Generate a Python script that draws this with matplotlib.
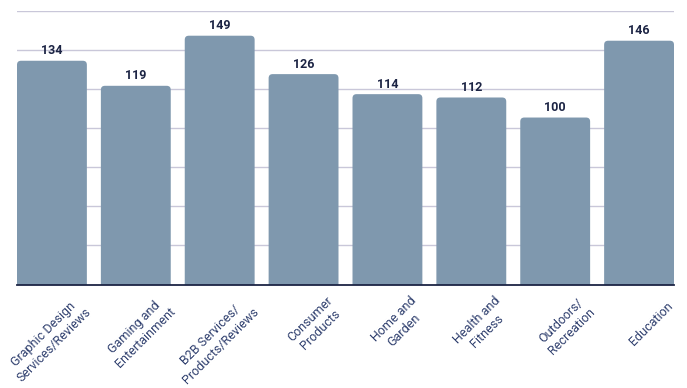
import numpy as np
import matplotlib.pyplot as plt
import matplotlib.transforms as mtransforms
from matplotlib.patches import FancyBboxPatch

categories = [
    "Graphic Design\nServices/Reviews",
    "Gaming and\nEntertainment",
    "B2B Services/\nProducts/Reviews",
    "Consumer\nProducts",
    "Home and\nGarden",
    "Health and\nFitness",
    "Outdoors/\nRecreation",
    "Education",
]
values = [134, 119, 149, 126, 114, 112, 100, 146]

bar_color = "#7f98ae"
grid_color = "#c9c7d9"
navy = "#1c2444"
label_color = "#2f3f6e"

plt.rcParams['font.family'] = ['Roboto', 'DejaVu Sans']

fig = plt.figure(figsize=(6.87, 3.88), dpi=100)
ax = fig.add_axes([17 / 687, 1 - 284.5 / 388, 657 / 687, 273.5 / 388])

x = np.arange(len(values))
width = 0.833
ymax = 163.8
ax.set_ylim(0, ymax)
ax.set_xlim(-width / 2, len(values) - 1 + width / 2)

# bars with rounded top corners (bottom part hidden below the axis)
rx = 0.048
ry = 2.4
for xi, v in zip(x, values):
    p = FancyBboxPatch((xi - width / 2, -ry * 2), width, v + ry * 2,
                       boxstyle=f"round,pad=0,rounding_size={rx}",
                       mutation_aspect=ry / rx,
                       facecolor=bar_color, edgecolor='none', zorder=2)
    ax.add_patch(p)

ax.set_yticks(np.linspace(0, ymax, 8)[1:])
ax.yaxis.grid(True, color=grid_color, linewidth=1.0, zorder=0)
ax.tick_params(axis='y', left=False, labelleft=False)
ax.tick_params(axis='x', bottom=False, length=0)

for s in ['top', 'right', 'left']:
    ax.spines[s].set_visible(False)
ax.spines['bottom'].set_color(navy)
ax.spines['bottom'].set_linewidth(1.3)
ax.spines['bottom'].set_zorder(3)

# value labels
for xi, v in zip(x, values):
    ax.annotate(str(v), (xi, v), xytext=(0, 2.5), textcoords='offset points',
                ha='center', va='bottom', fontsize=9, fontweight='bold', color=navy)

# rotated category labels
ax.set_xticks(x)
ax.set_xticklabels(categories, rotation=45, rotation_mode='anchor',
                   ha='right', va='center', multialignment='center',
                   fontsize=9, color=label_color)
offset = mtransforms.ScaledTranslation(32 / 100, -15 / 100, fig.dpi_scale_trans)
for lbl in ax.get_xticklabels():
    lbl.set_transform(lbl.get_transform() + offset)

fig.savefig("out.png", dpi=100)
